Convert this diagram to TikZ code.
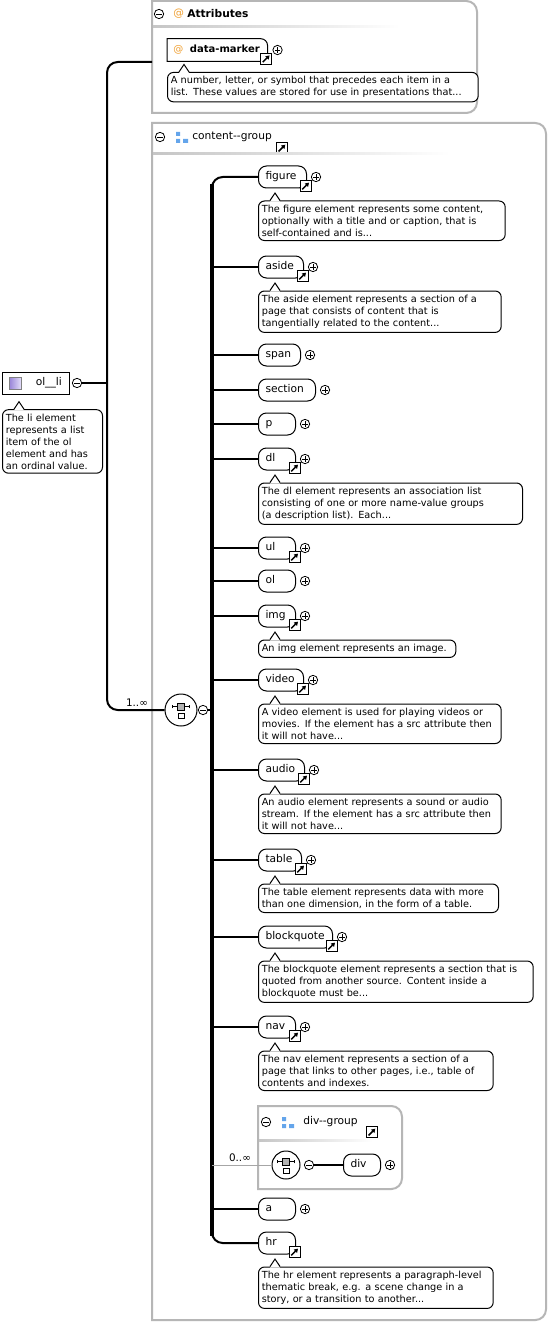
\documentclass[tikz,border=0pt]{standalone}
\usepackage{fontspec}
\setmainfont{DejaVu Sans}
\usetikzlibrary{arrows.meta}

\definecolor{atorange}{RGB}{240,160,50}
\definecolor{grpblue}{RGB}{100,165,235}
\definecolor{boxgray}{RGB}{182,182,182}
\definecolor{lavdark}{RGB}{150,130,215}
\definecolor{lavlight}{RGB}{228,222,250}

\newcommand{\docfont}{\fontsize{7.3}{9}\selectfont}
\newcommand{\elemfont}{\fontsize{8}{10}\selectfont}

% little tip on top of a tooltip
\newcommand{\docnotch}[1]{%
  \fill[white] ([xshift=9pt,yshift=-0.8pt]#1.north west) -- ([xshift=12.75pt,yshift=5.6pt]#1.north west) -- ([xshift=16.5pt,yshift=-0.8pt]#1.north west) -- cycle;
  \draw[line width=0.75pt] ([xshift=9pt]#1.north west) -- ([xshift=12.75pt,yshift=5.6pt]#1.north west) -- ([xshift=16.5pt]#1.north west);}
% blue group icon
\newcommand{\grpicon}[1]{%
  \begin{scope}[shift={(#1)}]
    \fill[grpblue] (0,0) rectangle (4,4) (0,7) rectangle (4,11) (7,7) rectangle (12,11);
  \end{scope}}

\tikzset{
  elem/.style={draw, fill=white, line width=0.75pt, rounded corners=6pt, anchor=west,
    minimum height=16.5pt, inner ysep=0pt, inner xsep=5.25pt, text width=#1, text height=5.9pt, text depth=1.6pt,
    align=left, font=\elemfont},
  doc/.style={draw, fill=white, line width=0.75pt, rounded corners=4.5pt, anchor=north west,
    align=left, inner xsep=2.5pt, inner ysep=3pt, text width=#1, font=\docfont},
  linkico/.style={draw, fill=white, line width=0.6pt, minimum size=8pt, inner sep=0pt,
    path picture={\draw[line width=1.1pt, -{Triangle[length=2.8pt,width=3.4pt]}]
      ([xshift=-2.6pt,yshift=-2.6pt]path picture bounding box.center) -- ([xshift=2.5pt,yshift=2.5pt]path picture bounding box.center);}},
  plusc/.style={circle, draw, fill=white, line width=0.6pt, minimum size=7pt, inner sep=0pt,
    path picture={\draw[line width=0.5pt]
      ([xshift=-2pt]path picture bounding box.center) -- ([xshift=2pt]path picture bounding box.center)
      ([yshift=-2pt]path picture bounding box.center) -- ([yshift=2pt]path picture bounding box.center);}},
  minusc/.style={circle, draw, fill=white, line width=0.6pt, minimum size=7pt, inner sep=0pt,
    path picture={\draw[line width=0.5pt]
      ([xshift=-2pt]path picture bounding box.center) -- ([xshift=2pt]path picture bounding box.center);}},
  seq/.style={circle, draw, fill=white, line width=0.75pt, minimum size=#1, inner sep=0pt,
    path picture={
      \draw[line width=0.6pt] ([xshift=-6.5pt,yshift=2.5pt]path picture bounding box.center) -- ([xshift=6.5pt,yshift=2.5pt]path picture bounding box.center);
      \draw[line width=0.6pt] ([xshift=-6.5pt,yshift=1.3pt]path picture bounding box.center) -- ([xshift=-6.5pt,yshift=3.7pt]path picture bounding box.center)
        ([xshift=6.5pt,yshift=1.3pt]path picture bounding box.center) -- ([xshift=6.5pt,yshift=3.7pt]path picture bounding box.center);
      \filldraw[fill=gray!60, line width=0.4pt] ([xshift=-2.6pt,yshift=0pt]path picture bounding box.center) rectangle ([xshift=2.6pt,yshift=5.2pt]path picture bounding box.center);
      \draw[line width=0.5pt] ([xshift=-2.2pt,yshift=-6.6pt]path picture bounding box.center) rectangle ([xshift=2.2pt,yshift=-2.2pt]path picture bounding box.center);}},
  grp/.style={draw=boxgray, line width=1.5pt},
  bus/.style={line width=2.3pt},
  conn/.style={line width=1.5pt},
  hdr/.style={anchor=west, inner sep=0pt, font=\elemfont},
  mult/.style={anchor=south, inner sep=1pt, font=\fontsize{7.8}{9}\selectfont},
}

\begin{document}
\begin{tikzpicture}[x=0.75pt,y=-0.75pt]
  \useasboundingbox[fill=white] (0,0) rectangle (548,1323);

  % Attributes
  \draw[grp] (152,1) [rounded corners=8pt] -- (477,1) -- (477,113) [sharp corners] -- (152,113) -- cycle;
  \node[minusc] (attrm) at (159,14) {};
  \node[hdr, text=atorange] (attrat) at (173,14) {@};
  \node[hdr, font=\elemfont\bfseries] (attrt) at (187,14) {Attributes};
  \shade[left color=gray!45, right color=white] (153,26) rectangle (400,28);
  \node[anchor=west, minimum height=16.5pt, inner xsep=4.5pt, inner ysep=0pt, text width=66pt, text height=5.6pt, text depth=1.5pt,
    align=left, font=\fontsize{7.5}{9}\selectfont] (dm) at (167,50) {\textcolor{atorange}{@}\hspace{5pt}\textbf{data-marker}};
  \draw[line width=0.75pt] (dm.south west) -- (dm.north west) [rounded corners=5pt] -- (dm.north east) [sharp corners] -- (dm.south east) -- cycle;
  \node[linkico] (dmlink) at ([xshift=-1pt,yshift=1.9pt]dm.south east) {};
  \node[plusc] (dmplus) at ([xshift=7.5pt]dm.east) {};
  \node[doc=228pt] (dmdoc) at ([yshift=-8pt]dm.south west) {A number, letter, or symbol that precedes each item in a\\ list. These values are stored for use in presentations that...};
  \docnotch{dmdoc}

  % content group
  \draw[grp] (152,123) [rounded corners=8pt] -- (546,123) -- (546,1320) [sharp corners] -- (152,1320) -- cycle;
  \node[minusc] (cgm) at (160,137) {};
  \grpicon{176,132}
  \node[hdr] (cgt) at (192,137) {content-{}-group};
  \node[linkico] (cglink) at (282,148) {};
  \shade[left color=gray!45, right color=white] (153,153) rectangle (450,155);

  % ol__li
  \node[draw, line width=0.75pt, anchor=west, minimum height=16.5pt, inner ysep=0pt, inner xsep=5.5pt,
    text width=39pt, text height=5.9pt, text depth=1.6pt, align=right, font=\elemfont] (olli) at (2,383) {ol\_\_li};
  \shade[left color=lavdark, right color=lavlight, draw=gray] (9,377) rectangle (21,389);
  \node[minusc] (ollim) at (77,383) {};
  \node[doc=70pt] (ollidoc) at ([yshift=-11pt]olli.south west) {The li element\\ represents a list\\ item of the ol\\ element and has\\ an ordinal value.};
  \docnotch{ollidoc}

  \coordinate (attrin) at (152,62);
  \node[seq=24pt] (seqa) at (181,710) {};
  \node[minusc] (seqam) at (203,710) {};
  \draw[conn] (ollim.east) -- (107,383);
  \draw[conn, rounded corners=8pt] (attrin) -- (107,62) -- (107,710) -- (seqa.west);
  \node[mult] (multa) at (137,708) {1..∞};

  % elements
  \node[elem=25.5pt] (figure) at (258,177) {figure};
  \node[linkico] (figurelink) at ([xshift=-1pt,yshift=1.9pt]figure.south east) {};
  \node[plusc] (figureplus) at ([xshift=6.75pt]figure.east) {};
  \node[doc=180pt] (figuredoc) at ([yshift=-9pt]figure.south west) {The figure element represents some content,\\ optionally with a title and or caption, that is\\ self-contained and is...};
  \docnotch{figuredoc}

  \node[elem=23.25pt] (aside) at (258,267) {aside};
  \node[linkico] (asidelink) at ([xshift=-1pt,yshift=1.9pt]aside.south east) {};
  \node[plusc] (asideplus) at ([xshift=6.75pt]aside.east) {};
  \node[doc=177pt] (asidedoc) at ([yshift=-9pt]aside.south west) {The aside element represents a section of a\\ page that consists of content that is\\ tangentially related to the content...};
  \docnotch{asidedoc}

  \node[elem=21pt] (span) at (258,355) {span};
  \node[plusc] (spanplus) at ([xshift=6.75pt]span.east) {};

  \node[elem=32.25pt] (section) at (258,390) {section};
  \node[plusc] (sectionplus) at ([xshift=6.75pt]section.east) {};

  \node[elem=17.25pt] (p) at (258,424) {p};
  \node[plusc] (pplus) at ([xshift=6.75pt]p.east) {};

  \node[elem=17.25pt] (dl) at (258,459) {dl};
  \node[linkico] (dllink) at ([xshift=-1pt,yshift=1.9pt]dl.south east) {};
  \node[plusc] (dlplus) at ([xshift=6.75pt]dl.east) {};
  \node[doc=193pt] (dldoc) at ([yshift=-9pt]dl.south west) {The dl element represents an association list\\ consisting of one or more name-value groups\\ (a description list). Each...};
  \docnotch{dldoc}

  \node[elem=17.25pt] (ul) at (258,548) {ul};
  \node[linkico] (ullink) at ([xshift=-1pt,yshift=1.9pt]ul.south east) {};
  \node[plusc] (ulplus) at ([xshift=6.75pt]ul.east) {};

  \node[elem=17.25pt] (ol) at (258,581) {ol};
  \node[plusc] (olplus) at ([xshift=6.75pt]ol.east) {};

  \node[elem=17.25pt] (img) at (258,616) {img};
  \node[linkico] (imglink) at ([xshift=-1pt,yshift=1.9pt]img.south east) {};
  \node[plusc] (imgplus) at ([xshift=6.75pt]img.east) {};
  \node[doc=143pt] (imgdoc) at ([yshift=-9pt]img.south west) {An img element represents an image.};
  \docnotch{imgdoc}

  \node[elem=23.25pt] (video) at (258,680) {video};
  \node[linkico] (videolink) at ([xshift=-1pt,yshift=1.9pt]video.south east) {};
  \node[plusc] (videoplus) at ([xshift=6.75pt]video.east) {};
  \node[doc=177pt] (videodoc) at ([yshift=-9pt]video.south west) {A video element is used for playing videos or\\ movies. If the element has a src attribute then\\ it will not have...};
  \docnotch{videodoc}

  \node[elem=24pt] (audio) at (258,770) {audio};
  \node[linkico] (audiolink) at ([xshift=-1pt,yshift=1.9pt]audio.south east) {};
  \node[plusc] (audioplus) at ([xshift=6.75pt]audio.east) {};
  \node[doc=177pt] (audiodoc) at ([yshift=-9pt]audio.south west) {An audio element represents a sound or audio\\ stream. If the element has a src attribute then\\ it will not have...};
  \docnotch{audiodoc}

  \node[elem=21.75pt] (table) at (258,860) {table};
  \node[linkico] (tablelink) at ([xshift=-1pt,yshift=1.9pt]table.south east) {};
  \node[plusc] (tableplus) at ([xshift=6.75pt]table.east) {};
  \node[doc=175pt] (tabledoc) at ([yshift=-9pt]table.south west) {The table element represents data with more\\ than one dimension, in the form of a table.};
  \docnotch{tabledoc}

  \node[elem=45pt] (blockquote) at (258,937) {blockquote};
  \node[linkico] (blockquotelink) at ([xshift=-1pt,yshift=1.9pt]blockquote.south east) {};
  \node[plusc] (blockquoteplus) at ([xshift=6.75pt]blockquote.east) {};
  \node[doc=201pt] (blockquotedoc) at ([yshift=-9pt]blockquote.south west) {The blockquote element represents a section that is\\ quoted from another source. Content inside a\\ blockquote must be...};
  \docnotch{blockquotedoc}

  \node[elem=17.25pt] (nav) at (258,1027) {nav};
  \node[linkico] (navlink) at ([xshift=-1pt,yshift=1.9pt]nav.south east) {};
  \node[plusc] (navplus) at ([xshift=6.75pt]nav.east) {};
  \node[doc=171pt] (navdoc) at ([yshift=-9pt]nav.south west) {The nav element represents a section of a\\ page that links to other pages, i.e., table of\\ contents and indexes.};
  \docnotch{navdoc}

  % div group
  \draw[grp] (258,1106) [rounded corners=8pt] -- (402,1106) -- (402,1189) [sharp corners] -- (258,1189) -- cycle;
  \node[minusc] (dgm) at (266,1122) {};
  \grpicon{282,1117}
  \node[hdr] (dgt) at (303,1122) {div-{}-group};
  \node[linkico] (dglink) at (372,1132) {};
  \shade[left color=gray!45, right color=white] (259,1139) rectangle (372,1141);
  \node[seq=21pt] (seqd) at (286,1165) {};
  \node[minusc] (seqdm) at (309,1165) {};
  \node[elem=17.25pt] (div) at (343,1165) {div};
  \node[plusc] (divplus) at ([xshift=6.75pt]div.east) {};
  \draw[conn] (seqdm.east) -- (div.west);

  \node[elem=17.25pt] (a) at (258,1209) {a};
  \node[plusc] (aplus) at ([xshift=6.75pt]a.east) {};

  \node[elem=17.25pt] (hr) at (258,1243) {hr};
  \node[linkico] (hrlink) at ([xshift=-1pt,yshift=1.9pt]hr.south east) {};
  \node[doc=171pt] (hrdoc) at ([yshift=-9pt]hr.south west) {The hr element represents a paragraph-level\\ thematic break, e.g. a scene change in a\\ story, or a transition to another...};
  \docnotch{hrdoc}

  % connectors of the content group
  \coordinate (busx) at (212,0);
  \draw[conn] (seqam.east) -- (seqam.east -| busx);
  \draw[conn, rounded corners=8pt] (figure.west) -- (figure.west -| busx) -- (hr.west -| busx) -- (hr.west);
  \draw[bus] (212,184) -- (212,1236);
  \draw[conn] (aside.west -| busx) -- (aside.west);
  \draw[conn] (span.west -| busx) -- (span.west);
  \draw[conn] (section.west -| busx) -- (section.west);
  \draw[conn] (p.west -| busx) -- (p.west);
  \draw[conn] (dl.west -| busx) -- (dl.west);
  \draw[conn] (ul.west -| busx) -- (ul.west);
  \draw[conn] (ol.west -| busx) -- (ol.west);
  \draw[conn] (img.west -| busx) -- (img.west);
  \draw[conn] (video.west -| busx) -- (video.west);
  \draw[conn] (audio.west -| busx) -- (audio.west);
  \draw[conn] (table.west -| busx) -- (table.west);
  \draw[conn] (blockquote.west -| busx) -- (blockquote.west);
  \draw[conn] (nav.west -| busx) -- (nav.west);
  \draw[conn] (a.west -| busx) -- (a.west);
  \draw[line width=0.75pt, gray!70] (seqd.west -| busx) -- (seqd.west);
  \node[mult] (multd) at (240,1163) {0..∞};
\end{tikzpicture}
\end{document}
